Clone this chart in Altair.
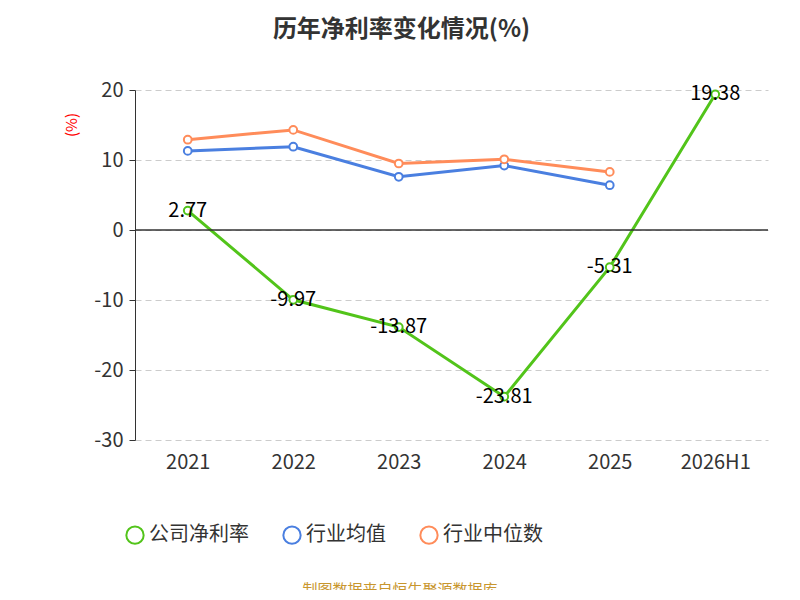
import altair as alt
import pandas as pd

years = ["2021", "2022", "2023", "2024", "2025", "2026H1"]
company = [2.77, -9.97, -13.87, -23.81, -5.31, 19.38]
industry_avg = [11.3, 11.9, 7.6, 9.2, 6.4]
industry_median = [12.9, 14.3, 9.5, 10.1, 8.3]
series_names = ["公司净利率", "行业均值", "行业中位数"]
series_colors = ["#52c41a", "#4a7fe0", "#ff8c5a"]

rows = []
for y, v in zip(years, company):
    rows.append({"year": y, "value": v, "series": series_names[0]})
for y, v in zip(years, industry_avg):
    rows.append({"year": y, "value": v, "series": series_names[1]})
for y, v in zip(years, industry_median):
    rows.append({"year": y, "value": v, "series": series_names[2]})
df = pd.DataFrame(rows)
comp = df[df.series == series_names[0]].copy()
comp["label"] = ["%.2f" % v for v in comp["value"]]

font = "Noto Sans CJK SC"
color = alt.Color("series:N", scale=alt.Scale(domain=series_names, range=series_colors),
                  legend=alt.Legend(title=None, orient="none", legendX=-10, legendY=435,
                                    direction="horizontal", symbolType="circle", symbolSize=300,
                                    symbolStrokeWidth=2, labelFontSize=20, labelFont=font,
                                    labelColor="#333", columnPadding=30, symbolFillColor="white"))
x = alt.X("year:N", sort=years, title=None,
          axis=alt.Axis(labelAngle=0, labelFontSize=20, labelFont=font, labelColor="#333",
                        domain=False, ticks=False, labelPadding=12))
y = alt.Y("value:Q", title=None, scale=alt.Scale(domain=[-30, 20], nice=False),
          axis=alt.Axis(values=[-30, -20, -10, 0, 10, 20], labelFontSize=20, labelFont=font,
                        labelColor="#333", gridDash=[6, 4], gridColor="#ccc", domainColor="#333",
                        tickColor="#333", tickSize=6, labelPadding=6, labelExpr="datum.value + ''"))

base = alt.Chart(df)
zero = alt.Chart(pd.DataFrame({"v": [0]})).mark_rule(color="#333", strokeWidth=1.5).encode(y=alt.Y("v:Q"))
lines = base.mark_line(strokeWidth=3).encode(x=x, y=y, color=color)
points = base.mark_point(shape="circle", filled=False, fill="white", fillOpacity=1,
                         size=60, strokeWidth=2, opacity=1).encode(x=x, y=y, color=color)
labels = alt.Chart(comp).mark_text(fontSize=20, font=font, color="black").encode(
    x=alt.X("year:N", sort=years), y="value:Q", text="label:N")
unit = alt.Chart(pd.DataFrame({"t": ["(%)"]})).mark_text(
    fontSize=15, color="red", angle=270, font=font).encode(
    x=alt.value(-63), y=alt.value(35), text="t:N")
source = alt.Chart(pd.DataFrame({"t": ["制图数据来自恒生聚源数据库"]})).mark_text(
    fontSize=15, color="#c8962e", font=font).encode(
    x=alt.value(265), y=alt.value(500), text="t:N")

chart = alt.layer(lines, zero, points, labels, unit, source).properties(
    width=633, height=350,
    autosize=alt.AutoSizeParams(type="none"),
    padding={"left": 127, "top": 82, "right": 16, "bottom": 150},
    title=alt.TitleParams("历年净利率变化情况(%)", fontSize=24, fontWeight="bold", font=font,
                          color="#333", anchor="middle", dx=-50, offset=38),
).configure_view(stroke=None)

chart.save("out.html", embed_options={"renderer": "svg", "actions": False})
